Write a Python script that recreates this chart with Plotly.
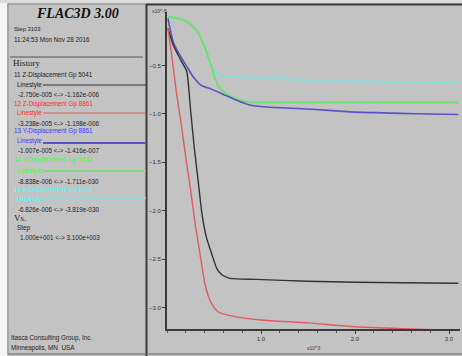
import plotly.graph_objects as go

W, H = 462, 356

# ---------------- data (x in 10^3 steps, y in 10^-5 m) ----------------
x_black = [0.01, 0.07, 0.15, 0.21, 0.25, 0.29, 0.33, 0.37, 0.42, 0.48, 0.53, 0.58, 0.67, 0.95, 1.5, 2.0, 2.5, 3.1]
y_black = [-0.116, -0.30, -0.45, -0.56, -0.95, -1.35, -1.68, -2.02, -2.28, -2.46, -2.60, -2.66, -2.70, -2.71, -2.73, -2.74, -2.745, -2.750]

x_red = [0.01, 0.05, 0.10, 0.15, 0.20, 0.25, 0.30, 0.35, 0.40, 0.45, 0.50, 0.55, 0.65, 0.75, 1.0, 1.5, 2.0, 2.5, 3.1]
y_red = [-0.12, -0.40, -0.78, -1.10, -1.45, -1.78, -2.14, -2.44, -2.74, -2.91, -3.00, -3.05, -3.08, -3.10, -3.13, -3.16, -3.20, -3.22, -3.238]

x_blue = [0.01, 0.07, 0.14, 0.21, 0.28, 0.37, 0.46, 0.60, 0.74, 0.88, 1.06, 1.5, 1.95, 2.3, 2.66, 3.1]
y_blue = [-0.014, -0.27, -0.40, -0.51, -0.62, -0.71, -0.74, -0.80, -0.86, -0.91, -0.93, -0.95, -0.98, -0.99, -1.00, -1.007]

x_green = [0.01, 0.10, 0.20, 0.27, 0.33, 0.38, 0.42, 0.46, 0.50, 0.55, 0.64, 0.78, 0.88, 1.2, 2.0, 3.1]
y_green = [0.0, -0.01, -0.04, -0.09, -0.16, -0.26, -0.36, -0.47, -0.60, -0.72, -0.80, -0.86, -0.88, -0.884, -0.884, -0.8838]

x_cyan = [0.01, 0.10, 0.20, 0.27, 0.33, 0.38, 0.42, 0.46, 0.50, 0.55, 0.65, 0.80, 1.13, 1.52, 2.27, 3.1]
y_cyan = [0.0, -0.01, -0.04, -0.09, -0.16, -0.26, -0.36, -0.47, -0.56, -0.59, -0.61, -0.62, -0.64, -0.65, -0.67, -0.6826]

y_ticks = [-3.0, -2.5, -2.0, -1.5, -1.0, -0.5]
x_ticks = [1.0, 2.0, 3.0]

legend_titles = ["11 Z-Displacement Gp 5041", "12 Z-Displacement Gp 8861",
                 "13 Y-Displacement Gp 8861", "14 Y-Displacement Gp 5041",
                 "15 X-Displacement Gp 8861"]
legend_ranges = ["-2.750e-005 <-> -1.162e-006", "-3.238e-005 <-> -1.198e-006",
                 "-1.007e-005 <-> -1.416e-007", "-8.838e-006 <-> -1.711e-030",
                 "-6.826e-006 <-> -3.819e-030"]

# ---------------- styles ----------------
BG = "#c3c3c3"
line_cols = ["#333333", "#e25a5a", "#5a52c4", "#6ee06e", "#86dcdc"]
text_cols = ["#222222", "#ff2a2a", "#3a3aff", "#3cff3c", "#3cffff"]
SANS = "Liberation Sans, Arial, sans-serif"
SERIF = "Liberation Serif, Times New Roman, serif"

def px(x):
    return x / W

def py(y):
    return 1 - y / H

# axis geometry (pixels)
X0_PX, XUNIT = 167, 94.0
Y0_PX, YUNIT = 17, 96.8
x_range = [0, (460 - X0_PX) / XUNIT]
y_top, y_bot = 0.05, -(329 - Y0_PX) / YUNIT
top_px = Y0_PX - y_top * YUNIT

fig = go.Figure()
series = [(x_cyan, y_cyan, 4, 2.0), (x_green, y_green, 3, 2.0),
          (x_blue, y_blue, 2, 1.6), (x_black, y_black, 0, 1.4), (x_red, y_red, 1, 1.4)]
for xs, ys, ci, w in series:
    fig.add_trace(go.Scatter(x=xs, y=ys, mode="lines",
                             line=dict(color=line_cols[ci], width=w, shape="spline", smoothing=0.5),
                             showlegend=False, hoverinfo="skip"))

fig.update_layout(
    width=W, height=H, margin=dict(l=0, r=0, t=0, b=0),
    paper_bgcolor=BG, plot_bgcolor=BG, showlegend=False,
    xaxis=dict(domain=[px(X0_PX), px(460)], range=x_range, showgrid=False, zeroline=False,
               showline=True, linecolor="#3a3a3a", linewidth=2,
               tickvals=x_ticks, tickformat=".1f", ticks="outside", ticklen=3, tickcolor="#3a3a3a",
               tickfont=dict(family=SANS, size=6, color="#333"),
               minor=dict(dtick=0.2, tick0=0, ticks="outside", ticklen=2, tickcolor="#555")),
    yaxis=dict(domain=[py(329), py(top_px)], range=[y_bot, y_top], showgrid=False, zeroline=False,
               showline=True, linecolor="#3a3a3a", linewidth=2,
               tickvals=y_ticks, tickformat=".1f", ticks="outside", ticklen=3, tickcolor="#3a3a3a",
               tickfont=dict(family=SANS, size=6, color="#333")),
)

shapes = []
def hline(x0, x1, y, color, width):
    shapes.append(dict(type="line", xref="paper", yref="paper", x0=px(x0), x1=px(x1),
                       y0=py(y), y1=py(y), line=dict(color=color, width=width)))
def vline(x, y0, y1, color, width):
    shapes.append(dict(type="line", xref="paper", yref="paper", x0=px(x), x1=px(x),
                       y0=py(y0), y1=py(y1), line=dict(color=color, width=width)))

# outer white margin and frame
shapes.append(dict(type="rect", xref="paper", yref="paper", x0=0, x1=px(7), y0=0, y1=1,
                   fillcolor="#f4f4f4", line=dict(width=0), layer="below"))
shapes.append(dict(type="rect", xref="paper", yref="paper", x0=0, x1=1, y0=py(3), y1=1,
                   fillcolor="#dcdcdc", line=dict(width=0), layer="below"))
vline(8, 4, 354, "#8a8a8a", 1)
hline(8, 146, 4, "#8a8a8a", 1)
vline(146.5, 4, 356, "#3a3a3a", 2)
hline(146, 462, 4.5, "#3a3a3a", 2)
hline(8, 462, 354, "#6a6a6a", 1)
# separator under header
hline(10, 143, 57, "#555555", 1)
# legend line samples
legend_line_y = [85, 113, 143, 171, 198]
legend_line_w = [1, 1, 2, 1.3, 1.3]
for i, ly in enumerate(legend_line_y):
    hline(43, 146, ly, line_cols[i] if i else "#333333", legend_line_w[i])
fig.update_layout(shapes=shapes)

ann = []
def text(x, y, s, color="#222", size=6.3, family=SANS, anchor="left"):
    ann.append(dict(x=px(x), y=py(y), xref="paper", yref="paper", text=s, showarrow=False,
                    xanchor=anchor, yanchor="middle", font=dict(family=family, size=size, color=color)))

text(77, 14, "<b><i>FLAC3D 3.00</i></b>", "#111", 14, SERIF, "center")
text(12, 29, "Step 3103", size=5.8)
text(12, 39, "11:24:53 Mon Nov 28 2016")
text(11, 63, "History", "#222", 9, SERIF)
title_y = [75, 104, 131, 160, 190]
ls_y = [85, 113, 141, 171, 199]
rng_y = [95, 123, 150, 181, 209]
for i in range(5):
    text(12, title_y[i], legend_titles[i], text_cols[i])
    text(15, ls_y[i], "Linestyle", text_cols[i])
    text(16, rng_y[i], legend_ranges[i])
text(12, 218, "Vs.", "#222", 9, SERIF)
text(15, 228, "Step")
text(18, 237, "1.000e+001 <-> 3.100e+003")
text(9, 338, "Itasca Consulting Group, Inc.")
text(9, 348, "Minneapolis, MN  USA")
# axis multipliers
text(150, 11, "x10^-5", "#333", 5)
text(305, 348, "x10^3", "#333", 5)
fig.update_layout(annotations=ann)

fig.write_html("out.html")
